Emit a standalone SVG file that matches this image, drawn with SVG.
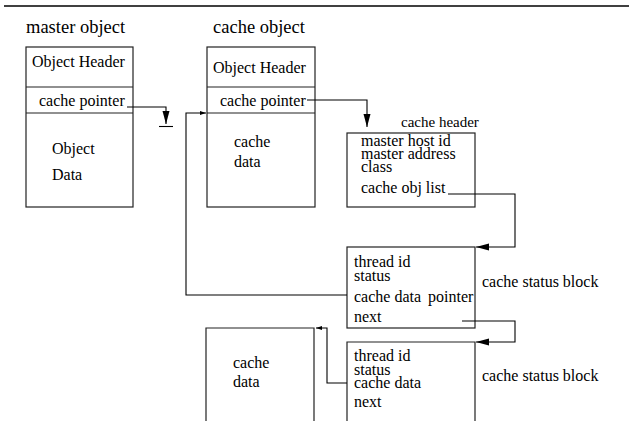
<svg xmlns="http://www.w3.org/2000/svg" width="629" height="421" viewBox="0 0 629 421">
<style>
text{font-family:"Liberation Serif","DejaVu Serif",serif;font-size:16px;fill:#000}
.title{font-size:18.5px}
.small{font-size:15px}
.box{fill:none;stroke:#222;stroke-width:1.2}
.conn{fill:none;stroke:#000;stroke-width:1.1}
</style>
<defs>
<marker id="ah" markerUnits="userSpaceOnUse" markerWidth="13" markerHeight="8" refX="13" refY="3.5" orient="auto">
<path d="M0,0 L13,3.5 L0,7 z" fill="#000"/>
</marker>
<marker id="ahs" markerUnits="userSpaceOnUse" markerWidth="6" markerHeight="5" refX="6" refY="2" orient="auto">
<path d="M0,0 L6,2 L0,4 z" fill="#000"/>
</marker>
</defs>
<line x1="4" y1="6" x2="629" y2="6" stroke="#000" stroke-width="1.6"/>

<g id="master-object">
<text class="title" x="26" y="33">master object</text>
<rect class="box" x="26" y="47" width="107" height="160"/>
<line class="box" x1="26" y1="87" x2="133" y2="87"/>
<line class="box" x1="26" y1="113" x2="133" y2="113"/>
<text x="32" y="67">Object Header</text>
<text x="39" y="106">cache pointer</text>
<text x="52" y="154">Object</text>
<text x="52" y="180">Data</text>
</g>

<g id="cache-object">
<text class="title" x="213" y="33">cache object</text>
<rect class="box" x="207" y="47" width="108" height="160"/>
<line class="box" x1="207" y1="87" x2="315" y2="87"/>
<line class="box" x1="207" y1="113" x2="315" y2="113"/>
<text x="213" y="73">Object Header</text>
<text x="220" y="106">cache pointer</text>
<text x="234" y="147">cache</text>
<text x="234" y="167">data</text>
</g>

<g id="cache-header">
<text class="small" x="401" y="127">cache header</text>
<rect class="box" x="347" y="133" width="128" height="74"/>
<text x="361" y="146">master host id</text>
<text x="361" y="159">master address</text>
<text x="361" y="172">class</text>
<text x="361" y="193">cache obj list</text>
</g>

<g id="status-block-1">
<rect class="box" x="347" y="247" width="128" height="81"/>
<text x="354" y="267">thread id</text>
<text x="354" y="281">status</text>
<text x="354" y="302">cache data</text>
<text x="428" y="302">pointer</text>
<text x="354" y="322">next</text>
<text x="482" y="287">cache status block</text>
</g>

<g id="status-block-2">
<path class="box" d="M347,421 V342 H475 V421"/>
<text x="354" y="361">thread id</text>
<text x="354" y="375">status</text>
<text x="354" y="388">cache data</text>
<text x="354" y="407">next</text>
<text x="482" y="381">cache status block</text>
</g>

<g id="cache-data-2">
<path class="box" d="M206,421 V328 H314 V421"/>
<text x="233" y="368">cache</text>
<text x="233" y="387">data</text>
</g>

<g id="connectors">
<path class="conn" d="M127,107 H166 V124" marker-end="url(#ah)"/>
<line class="conn" x1="159" y1="126.5" x2="173" y2="126.5" stroke-width="1.5"/>
<path class="conn" d="M307,100 H367 V127" marker-end="url(#ah)"/>
<path class="conn" d="M448,194 H515 V247 H476" marker-end="url(#ah)"/>
<path class="conn" d="M347,295 H186 V113 H206" marker-end="url(#ahs)"/>
<path class="conn" d="M462,321 H515 V342 H476" marker-end="url(#ah)"/>
<path class="conn" d="M347,383 H327 V328 H316" marker-end="url(#ahs)"/>
</g>
</svg>
